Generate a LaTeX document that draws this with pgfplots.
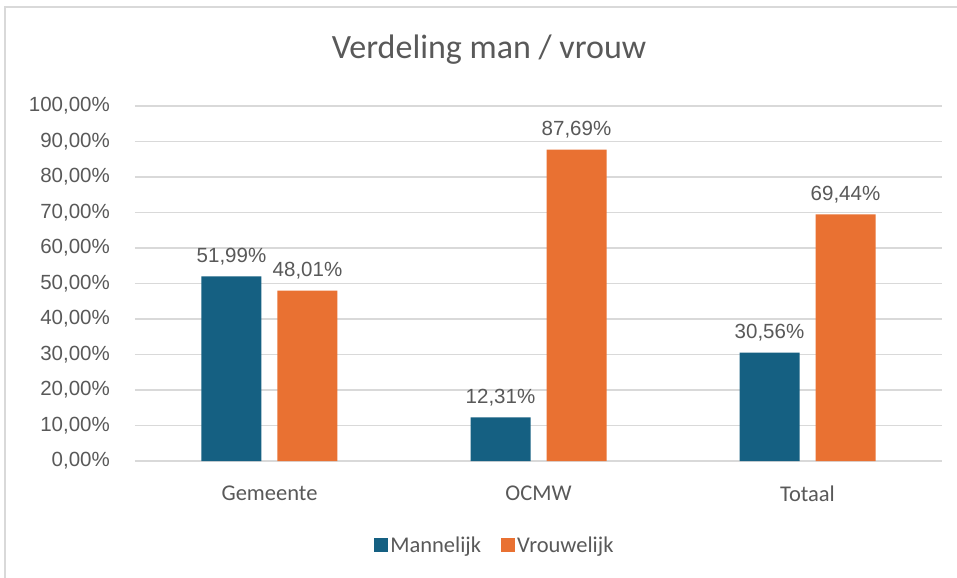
\documentclass[border=0pt]{standalone}
\usepackage{fontspec}
\setmainfont{Carlito}
\newfontfamily\arialf{Liberation Sans}
\usepackage{pgfplots}
\pgfplotsset{compat=1.18}
\definecolor{mblue}{HTML}{156082}
\definecolor{vorange}{HTML}{E97132}
\definecolor{txtgray}{HTML}{595959}
\definecolor{gridgray}{HTML}{D9D9D9}
\begin{document}
\begin{tikzpicture}
\useasboundingbox (-135bp,-117bp) rectangle (822bp,461bp);
\fill[white] (-135bp,-117bp) rectangle (822bp,461bp);
\draw[gridgray, line width=2bp] (-130bp,-120bp) -- (-130bp,454bp) -- (830bp,454bp);
\begin{axis}[
  at={(0,0)}, anchor=south west,
  scale only axis, width=807bp, height=355bp,
  ybar=16bp, bar width=60bp,
  xmin=-0.5, xmax=2.5, ymin=0, ymax=100,
  xtick={0,1,2}, xticklabels={Gemeente,OCMW,Totaal},
  ytick={0,10,...,100},
  yticklabels={{0,00\%},{10,00\%},{20,00\%},{30,00\%},{40,00\%},{50,00\%},{60,00\%},{70,00\%},{80,00\%},{90,00\%},{100,00\%}},
  axis line style={draw=none},
  major tick length=0pt,
  ymajorgrids, grid style={gridgray, line width=1.3bp},
  yticklabel style={font=\arialf\fontsize{20.5bp}{24bp}\selectfont, text=txtgray, anchor=east, inner sep=0pt, xshift=-25bp},
  xticklabel style={font=\fontsize{22.5bp}{26bp}\selectfont, text=txtgray, anchor=north, inner sep=0pt, yshift=-25bp},
  point meta=explicit symbolic,
  nodes near coords,
  every node near coord/.append style={font=\arialf\fontsize{20.5bp}{24bp}\selectfont, text=txtgray, anchor=south, inner sep=0pt, yshift=11bp},
  legend columns=2,
  legend style={at={(0.446,-0.2366)}, anchor=center, draw=none, fill=none,
    font=\fontsize{22.5bp}{26bp}\selectfont, text=txtgray,
    /tikz/every even column/.append style={column sep=18bp}},
  legend image code/.code={\fill[#1] (0bp,-7bp) rectangle (14bp,7bp);},
]
\addplot[fill=mblue, draw=none] coordinates {(0,51.99) [51,99\%] (1,12.31) [12,31\%] (2,30.56) [30,56\%]};
\addplot[fill=vorange, draw=none] coordinates {(0,48.01) [48,01\%] (1,87.69) [87,69\%] (2,69.44) [69,44\%]};
\legend{Mannelijk,Vrouwelijk}
\end{axis}
\node[text=txtgray, font=\fontsize{34bp}{40bp}\selectfont] at (354bp,411bp) {Verdeling man / vrouw};
\end{tikzpicture}
\end{document}
